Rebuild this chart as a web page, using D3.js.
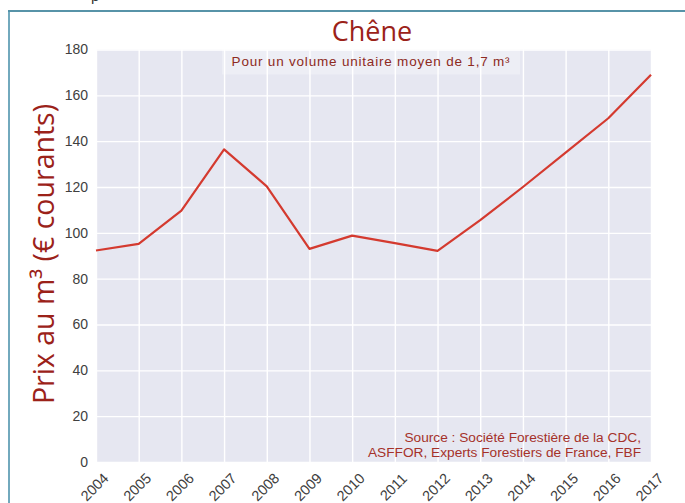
<!DOCTYPE html>
<html>
<head>
<meta charset="utf-8">
<script src="https://cdn.jsdelivr.net/npm/d3@7"></script>
<style>
  body { margin: 0; background: #fff; }
  svg { display: block; }
</style>
</head>
<body>
<svg class="chart" width="685" height="503"></svg>
<script>
// Chêne : prix au m3, 2004-2017
var years = [2004, 2005, 2006, 2007, 2008, 2009, 2010, 2011, 2012, 2013, 2014, 2015, 2016, 2017];
var prices = [92.3, 95.2, 109.7, 136.4, 120.3, 93, 98.8, 95.5, 92.1, 105.5, 120, 135, 150, 169];
var yTicks = [0, 20, 40, 60, 80, 100, 120, 140, 160, 180];

var titleText = "Chêne";
var yLabelText = "Prix au m³ (€ courants)";
var noteText = "Pour un volume unitaire moyen de 1,7 m³";
var sourceLines = ["Source : Société Forestière de la CDC,", "ASFFOR, Experts Forestiers de France, FBF"];

var margin = {top: 49.5, right: 34, bottom: 41, left: 96};
var svg = d3.select(".chart");
var w = +svg.attr("width") - margin.left - margin.right;
var h = +svg.attr("height") - margin.top - margin.bottom;

var darkRed = "#9b2219";

// cadre de la page
svg.append("line")
    .attr("x1", 8).attr("x2", 685).attr("y1", 11).attr("y2", 11)
    .attr("stroke", "#1f6f8b").attr("stroke-width", 1.6);
svg.append("line")
    .attr("x1", 9).attr("x2", 9).attr("y1", 11).attr("y2", 503)
    .attr("stroke", "#4f94ad").attr("stroke-width", 1.6);
// bout de texte coupé en haut (page précédente)
svg.append("text")
    .attr("x", 91).attr("y", 1)
    .style("font-family", "Liberation Sans, Arial, sans-serif")
    .style("font-size", "15px")
    .attr("fill", "#333")
    .text("p");

var g = svg.append("g").attr("transform", "translate(" + margin.left + "," + margin.top + ")");

var xScale = d3.scaleLinear().domain([d3.min(years), d3.max(years)]).range([0, w]);
var yScale = d3.scaleLinear().domain([0, 180]).range([h, 0]);

g.append("rect")
    .attr("width", w).attr("height", h)
    .attr("fill", "#e6e7f1");

// grilles
var yAxis = d3.axisLeft(yScale).tickValues(yTicks).tickSizeInner(-w).tickSizeOuter(0).tickPadding(8);
var yg = g.append("g").call(yAxis);
yg.select(".domain").remove();
yg.selectAll("line").attr("stroke", "#fff").attr("stroke-width", 1.4);
yg.selectAll("text")
    .style("font-family", "Liberation Sans, Arial, sans-serif")
    .style("font-size", "14px")
    .attr("fill", "#404040");

var xAxis = d3.axisBottom(xScale).tickValues(years).tickFormat(d3.format("d")).tickSizeInner(-h).tickSizeOuter(0);
var xg = g.append("g").attr("transform", "translate(0," + h + ")").call(xAxis);
xg.select(".domain").remove();
xg.selectAll("line").attr("stroke", "#fff").attr("stroke-width", 1.4);
xg.selectAll("text")
    .attr("y", 0).attr("dy", "0.35em")
    .attr("text-anchor", "middle")
    .attr("transform", "translate(-2,25) rotate(-45)")
    .style("font-family", "Liberation Sans, Arial, sans-serif")
    .style("font-size", "14.5px")
    .attr("fill", "#404040");

// note en haut
g.append("rect")
    .attr("x", 126).attr("y", -3).attr("width", 298).attr("height", 28)
    .attr("fill", "#ffffff").attr("opacity", 0.3);
g.append("text")
    .attr("x", (126 + 298 / 2)).attr("y", 16)
    .attr("text-anchor", "middle")
    .style("font-family", "Liberation Sans, Arial, sans-serif")
    .style("font-size", "13.5px")
    .style("letter-spacing", "0.8px")
    .attr("fill", "#8e2a22")
    .text(noteText);

// la courbe
var line = d3.line()
    .x(function(d, i) { return xScale(years[i]); })
    .y(function(d) { return yScale(d); });

g.append("path")
    .datum(prices)
    .attr("d", line)
    .attr("fill", "none")
    .attr("stroke", "#d43a2f")
    .attr("stroke-width", 2.2)
    .attr("stroke-linejoin", "round");

// source
g.selectAll(".source")
    .data(sourceLines)
    .enter()
    .append("text")
    .attr("class", "source")
    .attr("x", w - 10)
    .attr("y", function(d, i) { return h - 20 + i * 15; })
    .attr("text-anchor", "end")
    .style("font-family", "Liberation Sans, Arial, sans-serif")
    .style("font-size", "13.7px")
    .attr("fill", "#a5322a")
    .text(function(d) { return d; });

// titres
svg.append("text")
    .attr("x", 372).attr("y", 41)
    .attr("text-anchor", "middle")
    .style("font-family", "Open Sans, sans-serif")
    .style("font-size", "27px")
    .attr("fill", darkRed)
    .text(titleText);

svg.append("text")
    .attr("transform", "translate(54,254) rotate(-90)")
    .attr("text-anchor", "middle")
    .style("font-family", "Open Sans, sans-serif")
    .style("font-size", "28.5px")
    .attr("fill", darkRed)
    .text(yLabelText);
</script>
</body>
</html>
